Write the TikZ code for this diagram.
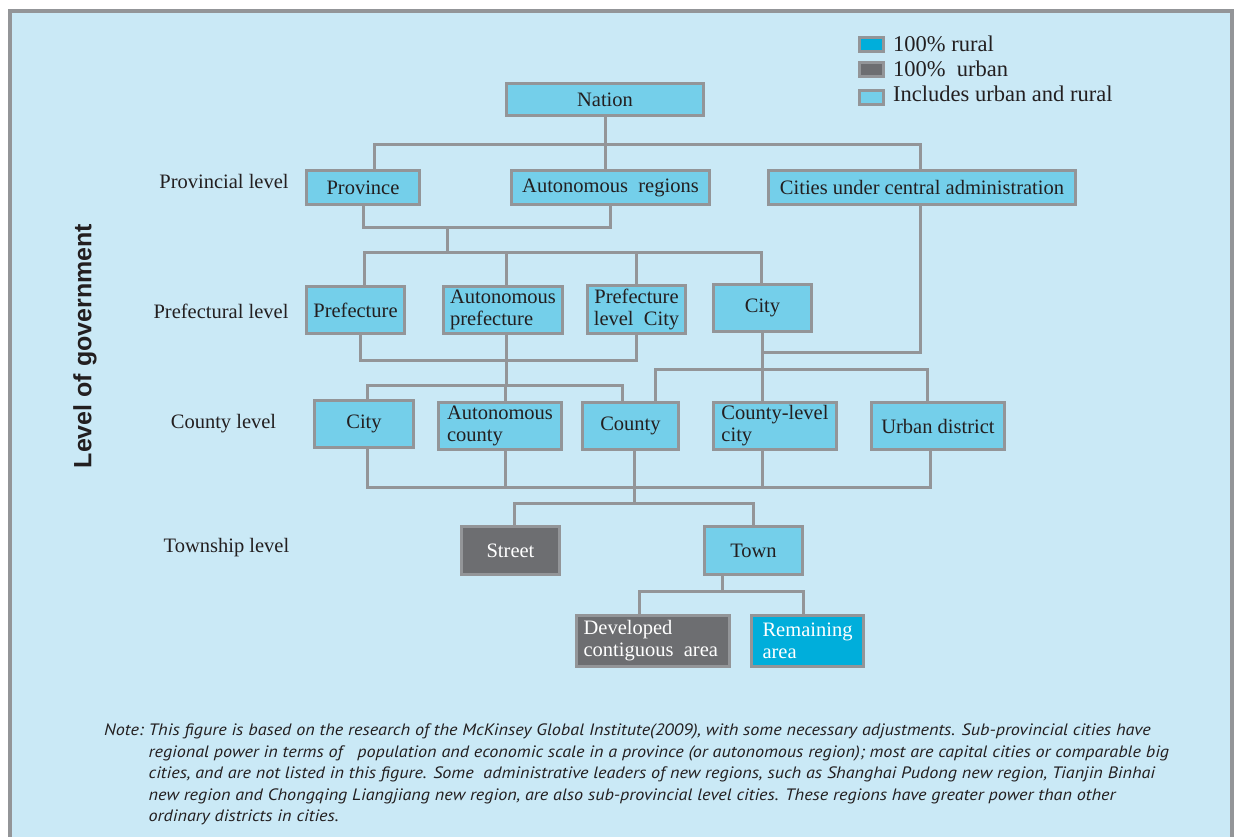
\documentclass[tikz,border=0pt]{standalone}
\usepackage{fontspec}
\setmainfont{Liberation Serif}
\newfontfamily\headfont{Liberation Sans}
\newfontfamily\notefont[FakeStretch=1.10]{PT Sans}
\usetikzlibrary{positioning}
\definecolor{bgblue}{RGB}{202,233,246}
\definecolor{framegray}{RGB}{147,149,152}
\definecolor{mixblue}{RGB}{116,207,234}
\definecolor{urbgray}{RGB}{109,110,113}
\definecolor{rurcyan}{RGB}{0,174,219}
\definecolor{inkdark}{RGB}{35,31,32}
\newcommand\bxfont{\fontsize{20.5}{22}\selectfont}
\newcommand\keyfont{\fontsize{22.5}{24}\selectfont}
\tikzset{
  mixbox/.style={rectangle, draw=framegray, line width=3pt, fill=mixblue, text=inkdark, font=\bxfont, inner sep=1pt, align=center},
  urbbox/.style={mixbox, fill=urbgray, text=white},
  rurbox/.style={mixbox, fill=rurcyan, text=white},
  keybox/.style={rectangle, draw=framegray, line width=3pt, minimum width=24pt, minimum height=14pt, inner sep=0pt},
  lvl/.style={font=\bxfont, text=inkdark},
  link/.style={draw=framegray, line width=3pt}
}
\begin{document}
\begin{tikzpicture}[x=1pt, y=-1pt]
\useasboundingbox (0,0) rectangle (1234,837);
\fill[bgblue] (8,10) rectangle (1234,837);
\draw[framegray, line width=4pt] (9.5,837) |- (1232,11.5) -- (1232,837);

% legend
\node[keybox, fill=rurcyan] (keyrur) at (871.5,45) {};
\node[keybox, fill=urbgray] (keyurb) at (871.5,69.5) {};
\node[keybox, fill=mixblue] (keymix) at (871.5,98) {};
\node[font=\keyfont, text=inkdark, anchor=base west, inner sep=0pt] (keyrurtxt) at (893,52) {100\% rural};
\node[font=\keyfont, text=inkdark, anchor=base west, inner sep=0pt] (keyurbtxt) at (893,77) {100\% \ urban};
\node[font=\keyfont, text=inkdark, anchor=base west, inner sep=0pt] (keymixtxt) at (893,102) {Includes urban and rural};

% levels
\node[font=\headfont\bfseries\fontsize{25}{27}\selectfont, text=inkdark, rotate=90] (axis) at (85,346) {Level of government};
\node[lvl] (lvlprov) at (224,181) {Provincial level};
\node[lvl] (lvlpref) at (221,311) {Prefectural level};
\node[lvl] (lvlcounty) at (223.5,424) {County level};
\node[lvl] (lvltown) at (226.5,548) {Township level};

% boxes
\node[mixbox, minimum width=197pt, minimum height=32pt] (nation) at (605,99.5) {Nation};
\node[mixbox, minimum width=113pt, minimum height=34pt] (prov) at (363,187.5) {Province};
\node[mixbox, minimum width=198pt, minimum height=34pt] (autreg) at (610.5,187.5) {Autonomous \ regions};
\node[mixbox, minimum width=307pt, minimum height=34pt] (central) at (922,187.5) {Cities under central administration};
\node[mixbox, minimum width=98pt, minimum height=47pt] (pref) at (355.5,310) {Prefecture};
\node[mixbox, minimum width=119pt, minimum height=47pt, align=left] (autpref) at (503,310) {Autonomous\\prefecture};
\node[mixbox, minimum width=98pt, minimum height=48pt] (preflc) at (636.5,309.5) {Prefecture\\level \ City};
\node[mixbox, minimum width=98pt, minimum height=47pt] (precity) at (762.5,308) {City};
\node[mixbox, minimum width=99pt, minimum height=47pt] (ccity) at (364,424) {City};
\node[mixbox, minimum width=123pt, minimum height=47pt, align=left] (autcounty) at (500,426) {Autonomous\\county\hspace*{28pt}};
\node[mixbox, minimum width=96pt, minimum height=47pt] (county) at (630.5,426) {County};
\node[mixbox, minimum width=123pt, minimum height=47pt, align=left] (clcity) at (775,426) {County-level\\city\hspace*{60pt}};
\node[mixbox, minimum width=133pt, minimum height=47pt] (udist) at (938,426) {Urban district};
\node[urbbox, minimum width=98pt, minimum height=48pt] (street) at (510.5,550.5) {Street};
\node[mixbox, minimum width=98pt, minimum height=48pt] (town) at (753.5,550.5) {Town};
\node[urbbox, minimum width=153pt, minimum height=51pt, align=left] (devarea) at (653,641) {Developed\hspace*{50pt}\\contiguous \ area};
\node[rurbox, minimum width=112pt, minimum height=51pt, align=left] (remarea) at (807.5,641) {Remaining\\area\hspace*{52pt}};

% connectors
\coordinate (provbus) at (605,145);
\coordinate (provjoin) at (447,228);
\coordinate (prefbus) at (447,252);
\coordinate (prefjoin) at (506,360);
\coordinate (cityjoin) at (762,352);
\coordinate (lbus) at (506,385);
\coordinate (rbus) at (762,369);
\coordinate (cbus) at (634,487);
\coordinate (tbus) at (634,503);
\coordinate (abus) at (722,591);

\draw[link] (nation.south) -- (provbus);
\draw[link] ([xshift=11pt]prov.north) |- (provbus) -| ([xshift=-2pt]central.north);
\draw[link] (provbus) -- (provbus |- autreg.north);

\draw[link] (prov.south) |- (provjoin) -| (autreg.south);
\draw[link] (provjoin) -- (prefbus);
\draw[link] ([xshift=8.5pt]pref.north) |- (prefbus) -| ([xshift=-1pt]precity.north);
\draw[link] ([xshift=3pt]autpref.north) |- (prefbus);
\draw[link] (preflc.north) |- (prefbus);

\draw[link] ([xshift=4.5pt]pref.south) |- (prefjoin) -| (preflc.south);
\draw[link] ([xshift=3pt]autpref.south) -- (lbus);
\draw[link] ([xshift=3pt]ccity.north) |- (lbus) -| ([xshift=-8.5pt]county.north);
\draw[link] ([xshift=5pt]autcounty.north) |- (lbus);

\draw[link] ([xshift=-2pt]central.south) |- (cityjoin);
\draw[link] ([xshift=-0.5pt]precity.south) -- (cityjoin) -- (rbus);
\draw[link] ([xshift=24.5pt]county.north) |- (rbus) -| ([xshift=-11pt]udist.north);
\draw[link] (rbus) -- (rbus |- clcity.north);

\draw[link] ([xshift=3pt]ccity.south) |- (cbus) -| ([xshift=-8pt]udist.south);
\draw[link] ([xshift=5pt]autcounty.south) |- (cbus);
\draw[link] ([xshift=-13pt]clcity.south) |- (cbus);
\draw[link] ([xshift=3.5pt]county.south) -- (tbus);

\draw[link] ([xshift=3.5pt]street.north) |- (tbus) -| (town.north);
\draw[link] ([xshift=-31.5pt]town.south) -- (abus);
\draw[link] ([xshift=-14pt]devarea.north) |- (abus) -| ([xshift=-4.5pt]remarea.north);

% note
\node[anchor=north west, align=left, inner sep=0pt, text=inkdark,
  font=\notefont\itshape\fontsize{16.5}{21.5}\selectfont] (note) at (104,724) {%
Note:\ This figure is based on the research of the McKinsey Global Institute(2009), with some necessary adjustments. Sub-provincial cities have\\
\phantom{Note:\ }regional power in terms of \ \ population and economic scale in a province (or autonomous region); most are capital cities or comparable big\\
\phantom{Note:\ }cities, and are not listed in this figure. Some \ administrative leaders of new regions, such as Shanghai Pudong new region, Tianjin Binhai\\
\phantom{Note:\ }new region and Chongqing Liangjiang new region, are also sub-provincial level cities. These regions have greater power than other\\
\phantom{Note:\ }ordinary districts in cities.};
\end{tikzpicture}
\end{document}
